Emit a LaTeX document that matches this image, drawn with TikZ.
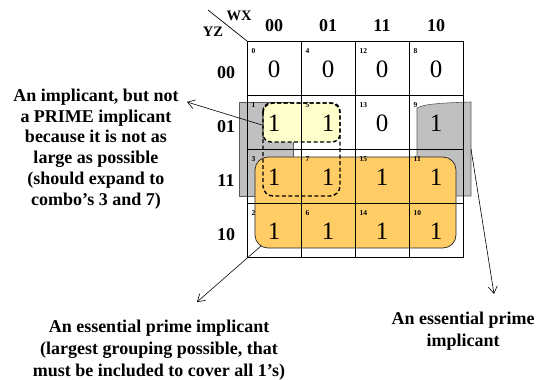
\documentclass[tikz,border=0pt]{standalone}
\usepackage{fontspec}
\setmainfont{Liberation Serif}
\usetikzlibrary{arrows.meta}
\definecolor{orangefill}{RGB}{255,204,102}
\definecolor{yellowfill}{RGB}{255,255,204}
\definecolor{grayfill}{RGB}{192,192,192}
\begin{document}
\begin{tikzpicture}[x=1pt,y=-1pt,
  cell/.style={draw=black, line width=0.9pt, minimum size=54pt, inner sep=0pt, outer sep=0pt},
  val/.style={font=\fontsize{25}{25}\selectfont, inner sep=0pt},
  idx/.style={font=\fontsize{7.5}{8}\selectfont\bfseries, inner sep=0pt, anchor=west},
  hdr/.style={font=\fontsize{18}{18}\selectfont\bfseries, inner sep=0pt},
  var/.style={font=\fontsize{14.5}{14.5}\selectfont\bfseries, inner sep=0pt},
  ltext/.style={font=\fontsize{18}{20.8}\selectfont\bfseries, align=center, inner sep=0pt},
  btext/.style={font=\fontsize{18}{22.3}\selectfont\bfseries, align=center, inner sep=0pt},
  grayshape/.style={fill=grayfill, draw=black!65, line width=0.6pt},
  dashedline/.style={draw=black, line width=1.4pt, dash pattern=on 4pt off 2.5pt},
  arr/.style={draw=black, line width=0.6pt, -{Straight Barb[length=7pt,width=9pt]}}
]
\useasboundingbox (0,0) rectangle (536,380);
% wrap-around group (gray)
\path[grayshape] (239,102) rectangle (293,196);
\path[grayshape] (417,196) -- (417,108) .. controls (424,104) and (440,103) .. (471,102) -- (471,196) -- cycle;
% essential prime implicant (orange)
\draw[fill=orangefill, draw=black!85, line width=0.7pt, rounded corners=13pt] (255,157) rectangle (456,248);
% non-prime implicant (yellow)
\draw[fill=yellowfill, dashedline, rounded corners=8pt] (263,103) rectangle (340,142);
% cells
\foreach \c/\r/\v/\i in {0/0/0/0, 1/0/0/4, 2/0/0/12, 3/0/0/8,
                         0/1/1/1, 1/1/1/5, 2/1/0/13, 3/1/1/9,
                         0/2/1/3, 1/2/1/7, 2/2/1/15, 3/2/1/11,
                         0/3/1/2, 1/3/1/6, 2/3/1/14, 3/3/1/10} {
  \node[cell] (m\i) at ({274+54*\c},{68+54*\r}) {};
  \node[val] (v\i) at ([yshift=-1pt]m\i.center) {\v};
  \node[idx] (n\i) at ([xshift=4.5pt,yshift=-10pt]m\i.north west) {\i};
}
% prime implicant outline (dashed)
\draw[dashedline, rounded corners=10pt] (263,103) rectangle (340,196);
% headers
\draw[line width=0.7pt] (m0.north west) -- (208,10);
\node[var] (wx) at (239,16) {WX};
\node[var] (yz) at (213,32) {YZ};
\foreach \lab [count=\k from 0] in {00,01,11,10} {
  \node[hdr] (col\k) at ({274+54*\k},26) {\lab};
  \node[hdr] (row\k) at (226,{73+54*\k}) {\lab};
}
% texts
\node[ltext] (t1) at (96,149) {An implicant, but not\\a PRIME implicant\\because it is not as\\large as possible\\(should expand to\\combo’s 3 and 7)};
\node[btext] (t2) at (159,350) {An essential prime implicant\\(largest grouping possible, that\\must be included to cover all 1’s)};
\node[btext] (t3) at (463,331) {An essential prime\\implicant};
% arrows
\coordinate (a1s) at (262,125);
\coordinate (a1e) at (187,102);
\coordinate (a2s) at (261,246);
\coordinate (a2e) at (197,302);
\coordinate (a3s) at (471,149);
\coordinate (a3e) at (494,294);
\draw[arr] (a1s) -- (a1e);
\draw[arr] (a2s) -- (a2e);
\draw[arr] (a3s) -- (a3e);
\end{tikzpicture}
\end{document}
